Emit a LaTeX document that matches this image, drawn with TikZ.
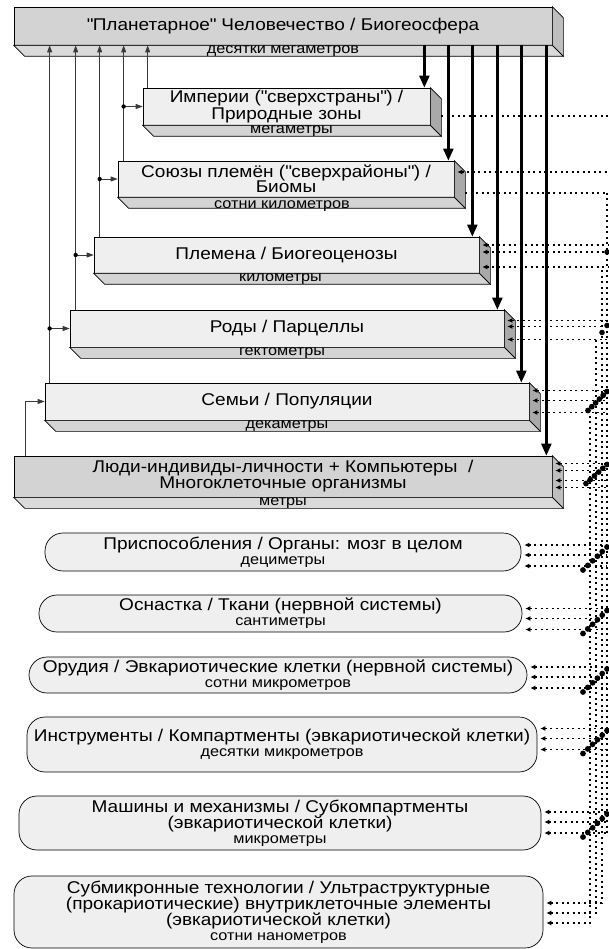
\documentclass[tikz,border=0pt]{standalone}
\usepackage{fontspec}
\setmainfont{Liberation Sans}[FakeStretch=1.12]
\usetikzlibrary{arrows.meta, calc}
\definecolor{frontlight}{HTML}{EFEFEF}
\definecolor{frontdark}{HTML}{D3D3D3}
\definecolor{bottomgray}{HTML}{D4D4D4}
\definecolor{bottomdark}{HTML}{DADADA}
\definecolor{sidegray}{HTML}{A9A9A9}
\definecolor{sidedark}{HTML}{BEBEBE}
\definecolor{wiregray}{HTML}{3A3A3A}
\newcommand{\mainsize}{\fontsize{17}{17}\selectfont}
\newcommand{\labsize}{\fontsize{14.5}{15}\selectfont}
\newcommand{\qq}{\textquotedbl}
% row of fat dots between two points
\newcommand{\dotrow}[2]{\foreach \t in {0,1,...,5} \fill ($(#1)!{\t/5}!(#2)$) circle (2.9pt);}

\begin{document}
\begin{tikzpicture}[x=1pt, y=-1pt, >=Stealth,
    slab/.style={rectangle, draw=black, line width=0.7pt, inner sep=0pt,
      text centered, align=center, font=\mainsize},
    pill/.style={rectangle, rounded corners=18pt, draw=black, line width=0.7pt,
      fill=frontlight, inner sep=0pt, text centered, align=center, font=\mainsize},
    scalelab/.style={font=\labsize, inner sep=0pt},
    upline/.style={draw=wiregray, line width=0.8pt, -{Triangle[length=7pt,width=5pt]}},
    downline/.style={line width=2.3pt, -{Triangle[length=12pt,width=10pt]}},
    dotline/.style={line width=1.4pt, dash pattern=on 2pt off 3.5pt},
    tipin/.style={{Latex[length=5pt,width=5pt]}-}]

    \useasboundingbox (0,0) rectangle (608,949);

    % levels drawn as slabs
    \node (plan) [slab, fill=frontdark, minimum width=538pt, minimum height=38pt] at (283,26)
      {\qq Планетарное\qq{} Человечество / Биогеосфера};
    \node (imp) [slab, fill=frontlight, minimum width=287pt, minimum height=37pt] at (286.5,106.5)
      {Империи (\qq сверхстраны\qq) /\\Природные зоны};
    \node (soy) [slab, fill=frontlight, minimum width=336pt, minimum height=36pt] at (286,179)
      {Союзы племён (\qq сверхрайоны\qq) /\\[-1.5pt]Биомы};
    \node (plem) [slab, fill=frontlight, minimum width=385pt, minimum height=36pt] at (286.5,255)
      {Племена / Биогеоценозы};
    \node (rod) [slab, fill=frontlight, minimum width=434pt, minimum height=37pt] at (287,328.5)
      {Роды / Парцеллы};
    \node (sem) [slab, fill=frontlight, minimum width=484pt, minimum height=37pt] at (287,401.5)
      {Семьи / Популяции};
    \node (lyud) [slab, fill=frontdark, minimum width=538pt, minimum height=41pt] at (283,476.5)
      {Люди-индивиды-личности + Компьютеры~~/\\[-1pt]Многоклеточные организмы};

    \foreach \n in {imp,soy,plem,rod,sem} {
      \filldraw[fill=bottomgray, line width=0.7pt] (\n.south west) -- (\n.south east) -- ++(11,11)
        -- ($(\n.south west)+(11,11)$) -- cycle;
      \filldraw[fill=sidegray, line width=0.7pt] (\n.north east) -- ++(11,11)
        -- ($(\n.south east)+(11,11)$) -- (\n.south east) -- cycle;
    }
    \foreach \n in {plan,lyud} {
      \filldraw[fill=bottomdark, line width=0.7pt] (\n.south west) -- (\n.south east) -- ++(11,11)
        -- ($(\n.south west)+(11,11)$) -- cycle;
      \filldraw[fill=sidedark, line width=0.7pt] (\n.north east) -- ++(11,11)
        -- ($(\n.south east)+(11,11)$) -- (\n.south east) -- cycle;
    }

    \node (planlab) [scalelab] at ($(plan.south)+(0,5.5)$) {десятки мегаметров};
    \node (implab) [scalelab] at ($(imp.south)+(5,5.5)$) {мегаметры};
    \node (soylab) [scalelab] at ($(soy.south)+(-4,8.5)$) {сотни километров};
    \node (plemlab) [scalelab] at ($(plem.south)+(-6,5.5)$) {километры};
    \node (rodlab) [scalelab] at ($(rod.south)+(-5,5.5)$) {гектометры};
    \node (semlab) [scalelab] at ($(sem.south)+(0,5.5)$) {декаметры};
    \node (lyudlab) [scalelab] at ($(lyud.south)+(0,5.5)$) {метры};

    % levels drawn as rounded boxes
    \node (pr) [pill, minimum width=476pt, minimum height=38pt] at (283,552)
      {Приспособления / Органы: мозг в целом\\[-2pt]\labsize дециметры};
    \node (osn) [pill, minimum width=483pt, minimum height=37pt] at (280.5,613.5)
      {Оснастка / Ткани (нервной системы)\\[-2pt]\labsize сантиметры};
    \node (oru) [pill, minimum width=498pt, minimum height=36pt] at (278,675)
      {Орудия / Эвкариотические клетки (нервной системы)\\[-2pt]\labsize сотни микрометров};
    \node (ins) [pill, minimum width=510pt, minimum height=55pt] at (282,744.5)
      {Инструменты / Компартменты (эвкариотической клетки)\\[-2pt]\labsize десятки микрометров};
    \node (mash) [pill, minimum width=522pt, minimum height=54pt] at (280,823)
      {Машины и механизмы / Субкомпартменты\\[-1pt](эвкариотической клетки)\\[-2pt]\labsize микрометры};
    \node (sub) [pill, minimum width=529pt, minimum height=72pt] at (278.5,912)
      {Субмикронные технологии / Ультраструктурные\\[-1pt](прокариотические) внутриклеточные элементы\\[-1pt](эвкариотической клетки)\\[-2pt]\labsize сотни нанометров};

    % links up to the planetary level
    \coordinate (u1) at ($(imp.north west)+(5,0)$);
    \coordinate (u2) at ($(soy.north west)+(6,0)$);
    \coordinate (u3) at ($(plem.north west)+(6,0)$);
    \coordinate (u4) at ($(rod.north west)+(6,0)$);
    \coordinate (u5) at ($(sem.north west)+(5,0)$);
    \coordinate (u6) at ($(lyud.north west)+(12,0)$);
    \foreach \u in {u1,u2,u3,u4,u5}
      \draw[upline] (\u) -- (\u |- plan.south);
    \draw[upline] (u2 |- imp.west) -- (imp.west);
    \draw[upline] (u3 |- soy.west) -- (soy.west);
    \draw[upline] (u4 |- plem.west) -- (plem.west);
    \draw[upline] (u5 |- rod.west) -- (rod.west);
    \foreach \u/\n in {u2/imp,u3/soy,u4/plem,u5/rod}
      \fill (\u |- \n.west) circle (2.2pt);
    \draw[upline] (u6) |- (sem.west);

    % links down from the planetary level
    \foreach \n/\dx in {imp/-6,soy/-6,plem/-7,rod/-7,sem/-8,lyud/-6} {
      \coordinate (d) at ($(\n.north east)+(\dx,0)$);
      \draw[downline] (d |- plan.south) -- (d);
    }

    % dotted bus on the right
    \coordinate (busA) at (590,0);
    \coordinate (busB) at (596,0);
    \coordinate (busC) at (602,0);
    \coordinate (busD) at (607,0);
    \coordinate (edge) at (608,0);

    \draw[dotline] ($(imp.east)+(11,9.5)$) -- ($(imp.east -| edge)+(0,9.5)$);
    \draw[dotline, tipin] ($(soy.east)+(3,-7)$) -- ($(soy.east -| edge)+(0,-7)$);
    \draw[dotline] ($(soy.east)+(11,14)$) -- ($(soy.east -| edge)+(0,14)$);
    \foreach \dy in {-10,-3,12}
      \draw[dotline, tipin] ($(plem.east)+(3,\dy)$) -- ($(plem.east -| edge)+(0,\dy)$);
    \fill ($(plem.east -| busD)+(0,-3)$) circle (2.8pt);
    \foreach \dy in {-8,-2,11}
      \draw[dotline, tipin] ($(rod.east)+(3,\dy)$) -- ($(rod.east -| edge)+(0,\dy)$);
    \fill ($(rod.east -| busC)+(0,4)$) circle (2.8pt);
    \fill ($(rod.east -| busD)+(0,-3)$) circle (2.8pt);
    \foreach \dy in {-11,-1,11}
      \draw[dotline, tipin] ($(sem.east)+(3,\dy)$) -- ($(sem.east -| busD)+(0,\dy)$);
    \coordinate (c1) at ($(sem.east -| busA)+(-2,9)$);
    \coordinate (c2) at ($(sem.east -| busD)+(0,-10)$);
    \dotrow{c1}{c2}
    \foreach \dy in {-13,-6,4,11}
      \draw[dotline, tipin] ($(lyud.east)+(3,\dy)$) -- ($(lyud.east -| busD)+(0,\dy)$);
    \coordinate (c1) at ($(lyud.east -| busA)+(-4,7)$);
    \coordinate (c2) at ($(lyud.east -| busD)+(0,-12)$);
    \dotrow{c1}{c2}

    \foreach \n/\s in {pr/3,osn/5,oru/2,ins/-6,mash/-1} {
      \foreach \dy in {-10,0,11}
        \draw[dotline, tipin] ($(\n.east)+(3,\dy+\s)$) -- ($(\n.east -| busD)+(0,\dy+\s)$);
      \coordinate (c1) at ($(\n.east -| busA)+(-7,\s+15)$);
      \coordinate (c2) at ($(\n.east -| busD)+(0,\s-8)$);
      \dotrow{c1}{c2}
    }
    \draw[dotline, tipin] ($(sub.east)+(3,-9)$) -| ($(plem.east -| busC)+(0,12)$);
    \draw[dotline, tipin] ($(sub.east)+(3,1)$) -| ($(rod.east -| busB)+(0,11)$);
    \draw[dotline, tipin] ($(sub.east)+(3,11)$) -| ($(sem.east -| busA)+(0,11)$);
    \draw[dotline] ($(soy.east -| busD)+(0,14)$) -- ($(mash.east -| busD)+(0,10)$);
\end{tikzpicture}
\end{document}
